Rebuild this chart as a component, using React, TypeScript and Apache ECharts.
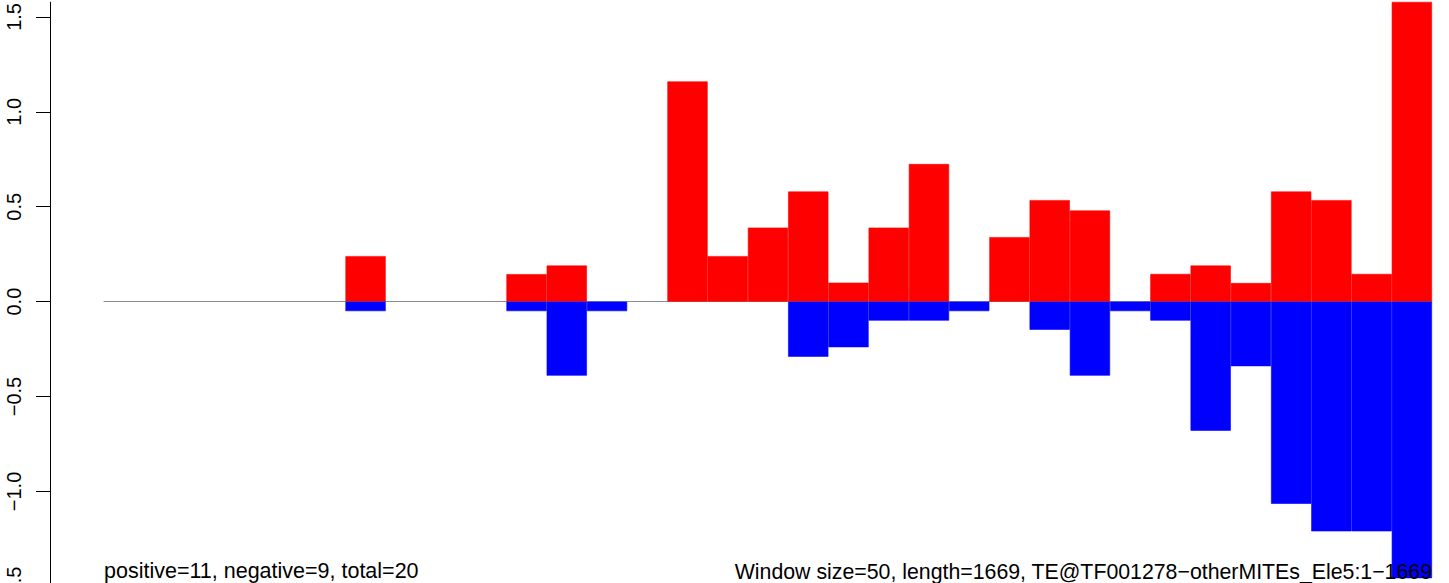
import React, { useEffect, useRef } from "react";
import * as echarts from "echarts";

// window start positions (33 windows of size 50)
const windows: string[] = [
  "1", "51", "101", "151", "201", "251", "301", "351", "401", "451", "501",
  "551", "601", "651", "701", "751", "801", "851", "901", "951", "1001",
  "1051", "1101", "1151", "1201", "1251", "1301", "1351", "1401", "1451",
  "1501", "1551", "1601",
];

const positiveValues: (number | null)[] = [
  null, null, null, null, null, null, 0.24, null, null, null, 0.145,
  0.19, null, null, 1.16, 0.24, 0.39, 0.58, 0.1, 0.39, 0.725,
  null, 0.34, 0.535, 0.48, null, 0.146, 0.19, 0.098, 0.58, 0.535,
  0.146, 1.75,
];

const negativeValues: (number | null)[] = [
  null, null, null, null, null, null, -0.05, null, null, null, -0.05,
  -0.39, -0.05, null, null, null, null, -0.29, -0.24, -0.1, -0.1,
  -0.05, null, -0.148, -0.39, -0.05, -0.1, -0.68, -0.34, -1.065, -1.21,
  -1.21, -1.457,
];

const yTicks: number[] = [-1.5, -1.0, -0.5, 0.0, 0.5, 1.0, 1.5];

const leftNote = "positive=11, negative=9, total=20";
const rightNote = "Window size=50, length=1669, TE@TF001278\u2212otherMITEs_Ele5:1\u22121669";

const FONT = '"Liberation Sans", Arial, Helvetica, sans-serif';

const fmt = (v: number) => {
  const s = Math.abs(v).toFixed(1);
  return v < 0 ? "\u2212" + s : s;
};

const W = 1449;
const H = 583;
const EXTRA = 40; // chart extends below the visible window, cropped by wrapper

export default function App() {
  const ref = useRef<HTMLDivElement>(null);

  useEffect(() => {
    document.body.style.margin = "0";
    if (!ref.current) return;
    const chart = echarts.init(ref.current, null, { renderer: "svg" });

    const zeroY = 300.5;
    const pxPerUnit = 190.5;
    const yMax = zeroY / pxPerUnit;
    const yMin = -(H + EXTRA - zeroY) / pxPerUnit;

    chart.setOption({
      animation: false,
      backgroundColor: "#ffffff",
      grid: { left: 104, right: 17, top: 0, bottom: 0, containLabel: false },
      xAxis: {
        type: "category",
        data: windows,
        axisLine: { show: true, onZero: true, lineStyle: { color: "#8c8c8c", width: 1 } },
        axisTick: { show: false },
        axisLabel: { show: false },
        splitLine: { show: false },
      },
      yAxis: {
        type: "value",
        min: yMin,
        max: yMax,
        offset: 54,
        axisLine: { show: true, lineStyle: { color: "#000000", width: 1 } },
        axisTick: {
          show: true,
          length: 14,
          customValues: yTicks,
          lineStyle: { color: "#000000", width: 1 },
        },
        axisLabel: {
          show: true,
          customValues: yTicks,
          rotate: 90,
          margin: 26,
          fontSize: 20,
          fontFamily: FONT,
          color: "#000000",
          formatter: (v: number) => fmt(v),
        },
        splitLine: { show: false },
      },
      series: [
        {
          type: "bar",
          data: positiveValues,
          barGap: "-100%",
          barCategoryGap: "0%",
          itemStyle: { color: "#ff0000", borderColor: "#ff0000", borderWidth: 0.6 },
          clip: true,
        },
        {
          type: "bar",
          data: negativeValues,
          barGap: "-100%",
          barCategoryGap: "0%",
          itemStyle: { color: "#0000ff", borderColor: "#0000ff", borderWidth: 0.6 },
          clip: true,
        },
      ],
      graphic: [
        {
          type: "text",
          x: 104,
          y: 582,
          z: 100,
          style: {
            text: leftNote,
            font: `21.5px ${FONT}`,
            fill: "#000000",
            align: "left",
            verticalAlign: "bottom",
          },
        },
        {
          type: "text",
          x: 1432,
          y: 582,
          z: 100,
          style: {
            text: rightNote,
            font: `21.3px ${FONT}`,
            fill: "#000000",
            align: "right",
            verticalAlign: "bottom",
          },
        },
      ],
    });

    return () => chart.dispose();
  }, []);

  return (
    <div style={{ width: W, height: H, overflow: "hidden", position: "relative" }}>
      <div ref={ref} style={{ width: W, height: H + EXTRA, position: "absolute", left: 0, top: 0 }} />
    </div>
  );
}
